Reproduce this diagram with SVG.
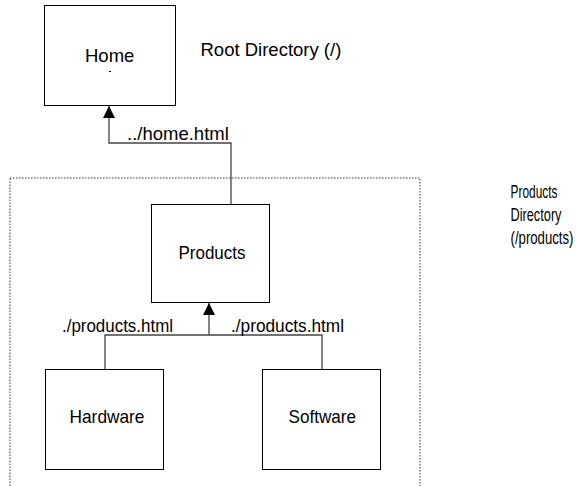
<svg xmlns="http://www.w3.org/2000/svg" width="576" height="486" viewBox="0 0 576 486">
<style>
.box{fill:#fff;stroke:#000;stroke-width:1}
.t{font-family:"Liberation Sans",Arial,sans-serif;font-size:18.5px;fill:#000}
.conn{fill:none;stroke:#444;stroke-width:1.3}
</style>
<defs>
<marker id="ah" viewBox="0 0 12 12" refX="12" refY="6" markerWidth="12" markerHeight="12" markerUnits="userSpaceOnUse" orient="auto">
<path d="M0,0 L12,6 L0,12 Z" fill="#000"/>
</marker>
</defs>
<rect x="10" y="178" width="410" height="320" fill="none" stroke="#333" stroke-width="1" stroke-dasharray="1.5,1.5"/>
<g id="connectors">
<path class="conn" d="M231,204 V143 H109 V106" marker-end="url(#ah)"/>
<path class="conn" d="M105,369 V335 H322 V369 M209,335 V303" marker-end="url(#ah)"/>
<text class="t" x="127" y="140">../home.html</text>
<text class="t" x="62" y="332" textLength="111" lengthAdjust="spacingAndGlyphs">./products.html</text>
<text class="t" x="231" y="332" textLength="113" lengthAdjust="spacingAndGlyphs">./products.html</text>
</g>
<g id="home">
<rect class="box" x="44.5" y="5.5" width="131" height="100"/>
<text class="t" x="85" y="62">Home</text>
<rect x="109" y="71" width="2" height="1" fill="#000"/>
</g>
<g id="root-label">
<text class="t" x="200.5" y="56">Root Directory (/)</text>
</g>
<g id="products">
<rect class="box" x="151.5" y="204.5" width="118" height="98"/>
<text class="t" x="178.5" y="259" textLength="67" lengthAdjust="spacingAndGlyphs">Products</text>
</g>
<g id="products-label">
<text class="t" x="510.5" y="198" textLength="47" lengthAdjust="spacingAndGlyphs">Products</text>
<text class="t" x="510.5" y="221" textLength="51" lengthAdjust="spacingAndGlyphs">Directory</text>
<text class="t" x="510.5" y="244" textLength="63" lengthAdjust="spacingAndGlyphs">(/products)</text>
</g>
<g id="hardware">
<rect class="box" x="45.5" y="369.5" width="118" height="100"/>
<text class="t" x="69.5" y="423" textLength="75" lengthAdjust="spacingAndGlyphs">Hardware</text>
</g>
<g id="software">
<rect class="box" x="262.5" y="369.5" width="118" height="100"/>
<text class="t" x="288.5" y="423" textLength="67.5" lengthAdjust="spacingAndGlyphs">Software</text>
</g>
</svg>
